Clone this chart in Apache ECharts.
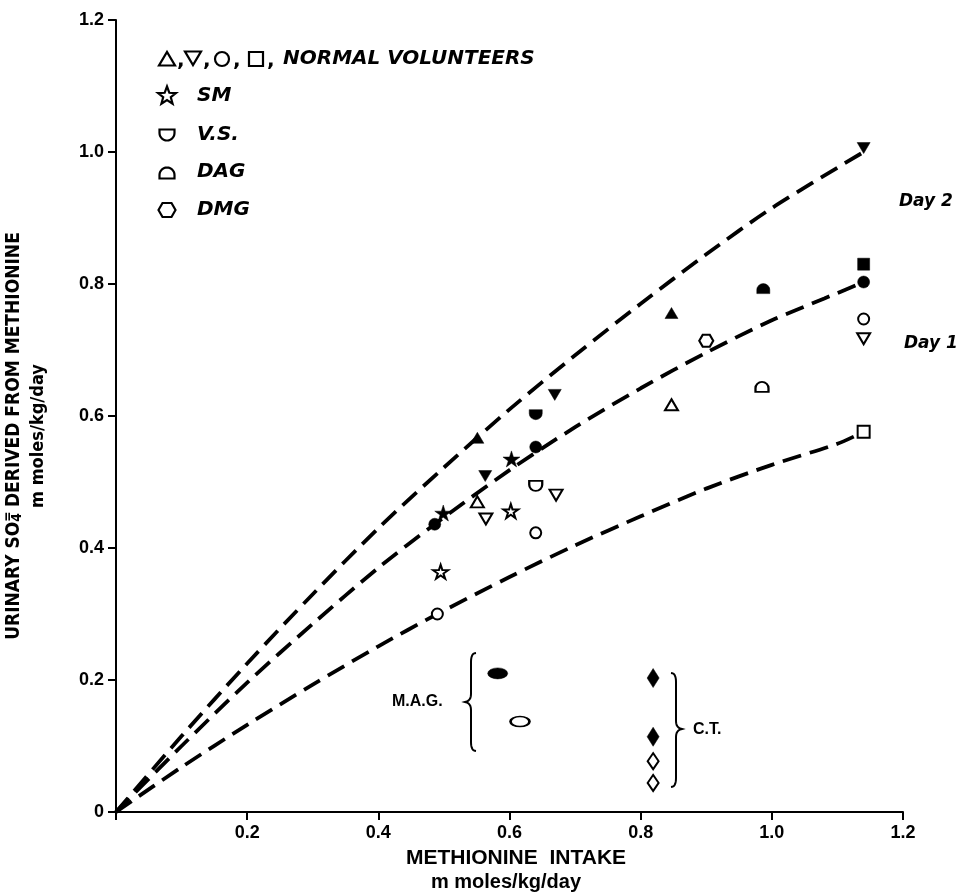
<!DOCTYPE html>
<html>
<head>
<meta charset="utf-8">
<script src="https://cdn.jsdelivr.net/npm/echarts@6/dist/echarts.min.js"></script>
<style>
  html, body { margin: 0; padding: 0; background: #fff; }
  #chart { width: 961px; height: 895px; }
</style>
</head>
<body>
<div id="chart"></div>
<script>
// Urinary sulfate derived from methionine vs. methionine intake (mmoles/kg/day)

// Axis ticks
const xTicks = [0, 0.2, 0.4, 0.6, 0.8, 1.0, 1.2];
const yTicks = [0, 0.2, 0.4, 0.6, 0.8, 1.0, 1.2];

// Normal volunteers (open = Day 1, filled = Day 2)
const triUpOpen      = [[0.551, 0.470], [0.847, 0.617]];
const triUpFilled    = [[0.551, 0.567], [0.847, 0.756]];
const triDownOpen    = [[0.564, 0.444], [0.671, 0.480], [1.14, 0.717]];
const triDownFilled  = [[0.563, 0.509], [0.669, 0.632], [1.14, 1.006]];
const circleOpen     = [[0.490, 0.300], [0.640, 0.423], [1.14, 0.747]];
const circleFilled   = [[0.486, 0.436], [0.640, 0.553], [1.14, 0.803]];
const squareOpen     = [[1.14, 0.576]];
const squareFilled   = [[1.14, 0.830]];

// Patients
const smOpen    = [[0.495, 0.364], [0.602, 0.456]];
const smFilled  = [[0.499, 0.453], [0.603, 0.535]];
const vsOpen    = [[0.640, 0.494]];
const vsFilled  = [[0.640, 0.602]];
const dagOpen   = [[0.985, 0.644]];
const dagFilled = [[0.987, 0.793]];
const dmgOpen   = [[0.900, 0.714]];
const magFilled = [[0.582, 0.210]];
const magOpen   = [[0.616, 0.137]];
const ctFilled  = [[0.819, 0.203], [0.819, 0.114]];
const ctOpen    = [[0.819, 0.077], [0.819, 0.044]];

// Dashed trend curves, read along their length
const upperCurve  = [[0, 0], [0.1, 0.115], [0.2, 0.225], [0.3, 0.330], [0.4, 0.430], [0.5, 0.522],
                     [0.6, 0.610], [0.7, 0.692], [0.8, 0.770], [0.9, 0.845], [1.0, 0.915], [1.14, 1.0]];
const middleCurve = [[0, 0], [0.1, 0.100], [0.2, 0.196], [0.3, 0.285], [0.4, 0.370], [0.486, 0.436],
                     [0.6, 0.518], [0.7, 0.583], [0.8, 0.642], [0.9, 0.696], [1.0, 0.745], [1.08, 0.778], [1.14, 0.803]];
const lowerCurve  = [[0, 0], [0.1, 0.068], [0.2, 0.132], [0.3, 0.193], [0.4, 0.251], [0.49, 0.300],
                     [0.6, 0.356], [0.7, 0.404], [0.8, 0.448], [0.9, 0.490], [1.0, 0.526], [1.1, 0.558], [1.14, 0.576]];

// Marker shapes
const SYM_TRI_DOWN = 'path://M0,0 L100,0 L50,87 Z';
const SYM_STAR = 'path://M50,0 L61,35 L98,35 L68,57 L79,91 L50,70 L21,91 L32,57 L2,35 L39,35 Z';
const SYM_CUP = 'path://M0,0 L100,0 L100,30 A50,50 0 0 1 0,30 Z';
const SYM_DOME = 'path://M0,80 L100,80 L100,50 A50,50 0 0 0 0,50 Z';
const SYM_HEX = 'path://M25,0 L75,0 L100,43 L75,86 L25,86 L0,43 Z';

const INK = '#000';
const labelFont = "'Liberation Sans', Arial, sans-serif";
const italicFont = "'DejaVu Sans', sans-serif";

function scatter(name, data, symbol, size, open) {
  return {
    type: 'scatter', name, data, symbol, symbolSize: size, z: 5,
    itemStyle: open
      ? { color: '#fff', borderColor: INK, borderWidth: 2, opacity: 1 }
      : { color: INK, borderColor: INK, borderWidth: 0.5, opacity: 1 }
  };
}
function curve(name, data) {
  return {
    type: 'line', name, data, smooth: 0.3, symbol: 'none', z: 3,
    lineStyle: { color: INK, width: 3.8, type: [19, 9], cap: 'butt' }
  };
}

// ---- text measuring for the rotated y title ----
const mctx = document.createElement('canvas').getContext('2d');
function measure(t, font) { mctx.font = font; return mctx.measureText(t).width; }

const yFam = "'Liberation Sans Narrow', 'DejaVu Sans Condensed', 'DejaVu Sans', sans-serif";
const yPartA = 'URINARY SO', yPartB = ' DERIVED FROM METHIONINE';
function yLineWidth(fs) {
  const f = `bold ${fs}px ${yFam}`, fsub = `bold ${fs * 0.72}px ${yFam}`;
  return measure(yPartA, f) + measure('4', fsub) + measure(yPartB, f);
}
const yFs = 17 * 408 / yLineWidth(17);
const yFont = `bold ${yFs}px ${yFam}`;
const ySubFont = `bold ${yFs * 0.72}px ${yFam}`;
const wA = measure(yPartA, yFont), w4 = measure('4', ySubFont);
const yLineW = yLineWidth(yFs);
const yCenter = 436, yLine1X = 14, yLine2X = 38;
const yStart = yCenter + yLineW / 2;

function rotText(text, x, y, font, align) {
  return {
    type: 'text', x, y, rotation: Math.PI / 2,
    style: { text, font, fill: INK, align: align || 'left', textAlign: align || 'left',
             verticalAlign: 'middle', textVerticalAlign: 'middle' }
  };
}
function txt(text, x, y, font, align) {
  return {
    type: 'text', x, y,
    style: { text, font, fill: INK, align: align || 'left', textAlign: align || 'left',
             verticalAlign: 'middle', textVerticalAlign: 'middle' }
  };
}

// ---- key symbols ----
const keyStroke = { fill: '#fff', stroke: INK, lineWidth: 2.2 };
function keyPoly(points) { return { type: 'polygon', shape: { points }, style: keyStroke }; }
function keyTriUp(cx, cy) { return keyPoly([[cx - 8, cy + 6.5], [cx + 8, cy + 6.5], [cx, cy - 7]]); }
function keyTriDown(cx, cy) { return keyPoly([[cx - 8, cy - 6.5], [cx + 8, cy - 6.5], [cx, cy + 7]]); }
function keyStar(cx, cy) {
  const pts = [];
  for (let i = 0; i < 10; i++) {
    const r = i % 2 === 0 ? 9.5 : 4;
    const a = -Math.PI / 2 + i * Math.PI / 5;
    pts.push([cx + r * Math.cos(a), cy + r * Math.sin(a)]);
  }
  return keyPoly(pts);
}
function keyCup(cx, cy, flip) {
  const s = flip ? -1 : 1, pts = [[cx - 7.5, cy - 5.5 * s], [cx + 7.5, cy - 5.5 * s]];
  for (let i = 0; i <= 14; i++) {
    const t = i / 14 * Math.PI;
    pts.push([cx + 7.5 * Math.cos(t), cy - 2 * s + 7.5 * Math.sin(t) * s]);
  }
  return keyPoly(pts);
}
function keyHex(cx, cy) {
  return keyPoly([[cx - 8.5, cy], [cx - 4.5, cy - 7], [cx + 4.5, cy - 7], [cx + 8.5, cy], [cx + 4.5, cy + 7], [cx - 4.5, cy + 7]]);
}

// ---- braces ----
function quadPts(p0, p1, p2, n) {
  const out = [];
  for (let i = 0; i <= n; i++) {
    const t = i / n, u = 1 - t;
    out.push([u * u * p0[0] + 2 * u * t * p1[0] + t * t * p2[0], u * u * p0[1] + 2 * u * t * p1[1] + t * t * p2[1]]);
  }
  return out;
}
function brace(x, top, mid, bottom, dir) {
  // dir = -1 opens to the right ("{"), +1 opens to the left ("}")
  const tip = x + 6 * dir, end = x - 5 * dir;
  const pts = [].concat(
    quadPts([end, top], [x, top], [x, top + 9], 8),
    [[x, mid - 8]],
    quadPts([x, mid - 8], [x, mid - 1], [tip, mid], 6),
    quadPts([tip, mid], [x, mid + 1], [x, mid + 8], 6),
    [[x, bottom - 9]],
    quadPts([x, bottom - 9], [x, bottom], [end, bottom], 8)
  );
  return { type: 'polyline', shape: { points: pts }, style: { stroke: INK, lineWidth: 2, fill: null } };
}

const legendFont = `italic bold 20px ${italicFont}`;
const commaFont = `bold 20px ${italicFont}`;

const graphics = [
  // key
  keyTriUp(167, 59), txt(',', 177, 61, commaFont),
  keyTriDown(193, 58), txt(',', 203, 61, commaFont),
  { type: 'circle', shape: { cx: 222, cy: 59, r: 7 }, style: keyStroke }, txt(',', 233, 61, commaFont),
  { type: 'rect', shape: { x: 249, y: 52, width: 14, height: 14 }, style: keyStroke }, txt(',', 267, 61, commaFont),
  txt('NORMAL VOLUNTEERS', 283, 59, legendFont),
  keyStar(167, 96), txt('SM', 197, 96, legendFont),
  keyCup(167, 135, false), txt('V.S.', 197, 135, legendFont),
  keyCup(167, 173, true), txt('DAG', 197, 172, legendFont),
  keyHex(167, 210), txt('DMG', 197, 210, legendFont),

  // day labels
  txt('Day 2', 899, 202, `italic bold 17px ${italicFont}`),
  txt('Day 1', 904, 344, `italic bold 17px ${italicFont}`),

  // group labels with braces
  txt('M.A.G.', 392, 702, `bold 16px ${labelFont}`),
  brace(471, 653, 702, 751, -1),
  txt('C.T.', 693, 730, `bold 16px ${labelFont}`),
  brace(676, 673, 729, 787, 1),

  // x axis title
  txt('METHIONINE  INTAKE', 516, 858, `bold 21px ${labelFont}`, 'center'),
  txt('m moles/kg/day', 506, 882, `bold 20px ${labelFont}`, 'center'),

  // y axis title (rotated)
  rotText(yPartA, yLine1X, yStart, yFont),
  rotText('4', yLine1X + 3, yStart - wA, ySubFont),
  rotText('=', yLine1X - 6, yStart - wA, ySubFont),
  rotText(yPartB, yLine1X, yStart - wA - w4, yFont),
  rotText('m moles/kg/day', yLine2X, yCenter, `bold ${yFs * 0.95}px ${yFam}`, 'center')
];

const axisCommon = {
  type: 'value', min: 0, max: 1.2, interval: 0.2,
  axisLine: { show: true, onZero: false, lineStyle: { color: INK, width: 2 } },
  axisTick: { show: true, length: 8, lineStyle: { color: INK, width: 2 } },
  splitLine: { show: false },
  axisLabel: { color: INK, fontFamily: labelFont, fontWeight: 'bold', fontSize: 18 }
};

const option = {
  animation: false,
  backgroundColor: '#fff',
  grid: { left: 116, right: 58, top: 20, bottom: 83 },
  xAxis: Object.assign({}, axisCommon, {
    axisLabel: Object.assign({}, axisCommon.axisLabel, {
      margin: 12,
      formatter: v => (xTicks.indexOf(v) <= 0 ? '' : v.toFixed(1))
    })
  }),
  yAxis: Object.assign({}, axisCommon, {
    axisLabel: Object.assign({}, axisCommon.axisLabel, {
      margin: 12,
      formatter: v => (v === yTicks[0] ? '0' : v.toFixed(1))
    })
  }),
  graphic: graphics,
  series: [
    curve('upper', upperCurve),
    curve('middle', middleCurve),
    curve('lower', lowerCurve),
    scatter('triUpOpen', triUpOpen, 'triangle', [13, 11], true),
    scatter('triUpFilled', triUpFilled, 'triangle', [13, 11], false),
    scatter('triDownOpen', triDownOpen, SYM_TRI_DOWN, [13, 11], true),
    scatter('triDownFilled', triDownFilled, SYM_TRI_DOWN, [13, 11], false),
    scatter('circleOpen', circleOpen, 'circle', 11, true),
    scatter('circleFilled', circleFilled, 'circle', 12, false),
    scatter('squareOpen', squareOpen, 'rect', 12, true),
    scatter('squareFilled', squareFilled, 'rect', 12, false),
    scatter('smOpen', smOpen, SYM_STAR, [15, 14], true),
    scatter('smFilled', smFilled, SYM_STAR, [17, 16], false),
    scatter('vsOpen', vsOpen, SYM_CUP, [13, 10], true),
    scatter('vsFilled', vsFilled, SYM_CUP, [13, 10], false),
    scatter('dagOpen', dagOpen, SYM_DOME, [13, 10], true),
    scatter('dagFilled', dagFilled, SYM_DOME, [13, 10], false),
    scatter('dmgOpen', dmgOpen, SYM_HEX, [14, 12], true),
    scatter('magFilled', magFilled, 'circle', [20, 11], false),
    scatter('magOpen', magOpen, 'circle', [19, 10], true),
    scatter('ctFilled', ctFilled, 'diamond', [12, 19], false),
    scatter('ctOpen', ctOpen, 'diamond', [11, 16], true)
  ]
};

const chart = echarts.init(document.getElementById('chart'), null, { renderer: 'canvas' });
chart.setOption(option);
</script>
</body>
</html>
